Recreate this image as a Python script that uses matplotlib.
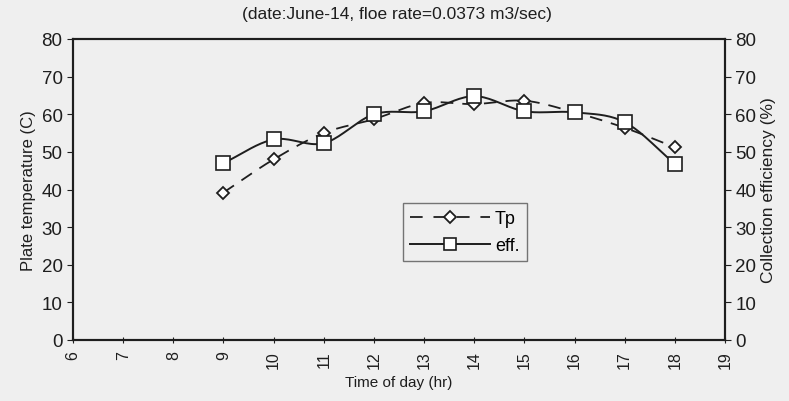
import numpy as np
import matplotlib.pyplot as plt

plt.rcParams['font.family'] = ['Liberation Sans', 'DejaVu Sans']

hours = [9, 10, 11, 12, 13, 14, 15, 16, 17, 18]
tp = [39.2, 48.0, 55.0, 58.7, 63.0, 62.7, 63.6, 60.5, 56.4, 51.2]
eff = [47.0, 53.3, 52.3, 60.0, 60.8, 64.8, 60.8, 60.5, 57.9, 46.8]

x_ticks = list(range(6, 20))
y_ticks = list(range(0, 81, 10))

ink = '#1e1e1e'
bg = '#efefef'


def smooth(x, y, n=20):
    # catmull-rom curve through the points, like a spreadsheet "smoothed line"
    x = np.asarray(x, float)
    y = np.asarray(y, float)
    px = np.concatenate([[2 * x[0] - x[1]], x, [2 * x[-1] - x[-2]]])
    py = np.concatenate([[2 * y[0] - y[1]], y, [2 * y[-1] - y[-2]]])
    t = np.linspace(0, 1, n, endpoint=False)
    xs, ys = [], []
    for i in range(1, len(px) - 2):
        for p, out in ((px, xs), (py, ys)):
            p0, p1, p2, p3 = p[i - 1], p[i], p[i + 1], p[i + 2]
            out.extend(0.5 * (2 * p1 + (-p0 + p2) * t
                              + (2 * p0 - 5 * p1 + 4 * p2 - p3) * t ** 2
                              + (-p0 + 3 * p1 - 3 * p2 + p3) * t ** 3))
    xs.append(x[-1])
    ys.append(y[-1])
    return np.array(xs), np.array(ys)


fig = plt.figure(figsize=(7.89, 4.02), dpi=100, facecolor=bg)
ax = fig.add_axes([73 / 789, 1 - 341 / 402, 652 / 789, 301 / 402])
ax.set_facecolor(bg)

sx, sy = smooth(hours, tp)
ax.plot(sx, sy, color=ink, lw=1.3, dashes=(7, 5))
ax.plot(hours, tp, ls='none', marker='D', ms=6.5, mfc='white', mec=ink, mew=1.3)
ax.plot([], [], color=ink, lw=1.3, dashes=(7, 6), marker='D', ms=6,
        mfc='white', mec=ink, mew=1.3, label='Tp')

sx, sy = smooth(hours, eff)
ax.plot(sx, sy, color=ink, lw=1.4)
ax.plot(hours, eff, ls='none', marker='s', ms=10, mfc='white', mec=ink, mew=1.2)
ax.plot([], [], color=ink, lw=1.4, marker='s', ms=8, mfc='white', mec=ink,
        mew=1.2, label='eff.')

ax.set_xlim(6, 19)
ax.set_ylim(0, 80)
ax.set_xticks(x_ticks)
ax.set_xticklabels([str(h) for h in x_ticks], rotation=90, fontsize=11.5)
ax.set_yticks(y_ticks)
ax.tick_params(axis='y', labelsize=13.5, colors=ink, length=4, direction='out')
ax.tick_params(axis='x', colors=ink, length=5, direction='inout', pad=5)
for s in ax.spines.values():
    s.set_color(ink)
    s.set_linewidth(1.5)

ax2 = ax.twinx()
ax2.set_ylim(0, 80)
ax2.set_yticks(y_ticks)
ax2.tick_params(axis='y', labelsize=13.5, colors=ink, length=4, direction='out')
for s in ax2.spines.values():
    s.set_color(ink)
    s.set_linewidth(1.5)

ax.set_xlabel('Time of day (hr)', fontsize=11, color=ink, labelpad=5)
ax.set_ylabel('Plate temperature (C)', fontsize=12, color=ink, labelpad=4)
ax2.set_ylabel('Collection efficiency (%)', fontsize=12.5, color=ink, labelpad=3)

fig.text(0.503, 0.963, '(date:June-14, floe rate=0.0373 m3/sec)',
         ha='center', va='center', fontsize=12.5, color=ink)

leg = ax.legend(loc='upper left', bbox_to_anchor=(330 / 652, 137 / 301),
                fontsize=13, frameon=True, fancybox=False, handlelength=4.4,
                borderpad=0.4, labelspacing=0.55, handletextpad=0.3,
                borderaxespad=0)
leg.get_frame().set_edgecolor('#555555')
leg.get_frame().set_facecolor(bg)
leg.get_frame().set_linewidth(1.0)

fig.savefig('out.png', dpi=100, facecolor=bg)
